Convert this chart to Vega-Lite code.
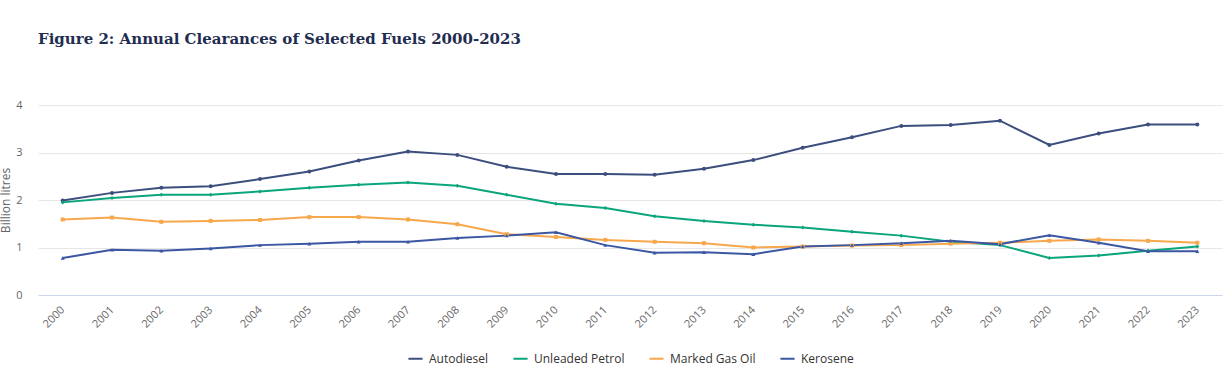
{
  "$schema": "https://vega.github.io/schema/vega-lite/v6.json",
  "autosize": {"type": "none"},
  "width": 1184,
  "height": 190,
  "padding": {"left": 38, "top": 105, "right": 5, "bottom": 79},
  "background": "#ffffff",
  "title": {
    "text": "Figure 2: Annual Clearances of Selected Fuels 2000-2023",
    "anchor": "start",
    "frame": "group",
    "font": "DejaVu Serif",
    "fontSize": 15,
    "fontWeight": "bold",
    "color": "#1f2d50",
    "offset": 52
  },
  "data": {
    "values": [
      {"year": "2000", "fuel": "Autodiesel", "value": 1.99},
      {"year": "2001", "fuel": "Autodiesel", "value": 2.15},
      {"year": "2002", "fuel": "Autodiesel", "value": 2.26},
      {"year": "2003", "fuel": "Autodiesel", "value": 2.29},
      {"year": "2004", "fuel": "Autodiesel", "value": 2.44},
      {"year": "2005", "fuel": "Autodiesel", "value": 2.60},
      {"year": "2006", "fuel": "Autodiesel", "value": 2.83},
      {"year": "2007", "fuel": "Autodiesel", "value": 3.02},
      {"year": "2008", "fuel": "Autodiesel", "value": 2.95},
      {"year": "2009", "fuel": "Autodiesel", "value": 2.70},
      {"year": "2010", "fuel": "Autodiesel", "value": 2.55},
      {"year": "2011", "fuel": "Autodiesel", "value": 2.55},
      {"year": "2012", "fuel": "Autodiesel", "value": 2.53},
      {"year": "2013", "fuel": "Autodiesel", "value": 2.66},
      {"year": "2014", "fuel": "Autodiesel", "value": 2.84},
      {"year": "2015", "fuel": "Autodiesel", "value": 3.10},
      {"year": "2016", "fuel": "Autodiesel", "value": 3.32},
      {"year": "2017", "fuel": "Autodiesel", "value": 3.56},
      {"year": "2018", "fuel": "Autodiesel", "value": 3.58},
      {"year": "2019", "fuel": "Autodiesel", "value": 3.67},
      {"year": "2020", "fuel": "Autodiesel", "value": 3.16},
      {"year": "2021", "fuel": "Autodiesel", "value": 3.40},
      {"year": "2022", "fuel": "Autodiesel", "value": 3.59},
      {"year": "2023", "fuel": "Autodiesel", "value": 3.59},
      {"year": "2000", "fuel": "Unleaded Petrol", "value": 1.95},
      {"year": "2001", "fuel": "Unleaded Petrol", "value": 2.04},
      {"year": "2002", "fuel": "Unleaded Petrol", "value": 2.11},
      {"year": "2003", "fuel": "Unleaded Petrol", "value": 2.11},
      {"year": "2004", "fuel": "Unleaded Petrol", "value": 2.18},
      {"year": "2005", "fuel": "Unleaded Petrol", "value": 2.26},
      {"year": "2006", "fuel": "Unleaded Petrol", "value": 2.32},
      {"year": "2007", "fuel": "Unleaded Petrol", "value": 2.37},
      {"year": "2008", "fuel": "Unleaded Petrol", "value": 2.30},
      {"year": "2009", "fuel": "Unleaded Petrol", "value": 2.11},
      {"year": "2010", "fuel": "Unleaded Petrol", "value": 1.92},
      {"year": "2011", "fuel": "Unleaded Petrol", "value": 1.83},
      {"year": "2012", "fuel": "Unleaded Petrol", "value": 1.66},
      {"year": "2013", "fuel": "Unleaded Petrol", "value": 1.56},
      {"year": "2014", "fuel": "Unleaded Petrol", "value": 1.48},
      {"year": "2015", "fuel": "Unleaded Petrol", "value": 1.42},
      {"year": "2016", "fuel": "Unleaded Petrol", "value": 1.33},
      {"year": "2017", "fuel": "Unleaded Petrol", "value": 1.25},
      {"year": "2018", "fuel": "Unleaded Petrol", "value": 1.12},
      {"year": "2019", "fuel": "Unleaded Petrol", "value": 1.05},
      {"year": "2020", "fuel": "Unleaded Petrol", "value": 0.78},
      {"year": "2021", "fuel": "Unleaded Petrol", "value": 0.83},
      {"year": "2022", "fuel": "Unleaded Petrol", "value": 0.93},
      {"year": "2023", "fuel": "Unleaded Petrol", "value": 1.02},
      {"year": "2000", "fuel": "Marked Gas Oil", "value": 1.59},
      {"year": "2001", "fuel": "Marked Gas Oil", "value": 1.63},
      {"year": "2002", "fuel": "Marked Gas Oil", "value": 1.54},
      {"year": "2003", "fuel": "Marked Gas Oil", "value": 1.56},
      {"year": "2004", "fuel": "Marked Gas Oil", "value": 1.58},
      {"year": "2005", "fuel": "Marked Gas Oil", "value": 1.64},
      {"year": "2006", "fuel": "Marked Gas Oil", "value": 1.64},
      {"year": "2007", "fuel": "Marked Gas Oil", "value": 1.59},
      {"year": "2008", "fuel": "Marked Gas Oil", "value": 1.49},
      {"year": "2009", "fuel": "Marked Gas Oil", "value": 1.28},
      {"year": "2010", "fuel": "Marked Gas Oil", "value": 1.22},
      {"year": "2011", "fuel": "Marked Gas Oil", "value": 1.16},
      {"year": "2012", "fuel": "Marked Gas Oil", "value": 1.12},
      {"year": "2013", "fuel": "Marked Gas Oil", "value": 1.09},
      {"year": "2014", "fuel": "Marked Gas Oil", "value": 1.00},
      {"year": "2015", "fuel": "Marked Gas Oil", "value": 1.02},
      {"year": "2016", "fuel": "Marked Gas Oil", "value": 1.04},
      {"year": "2017", "fuel": "Marked Gas Oil", "value": 1.05},
      {"year": "2018", "fuel": "Marked Gas Oil", "value": 1.08},
      {"year": "2019", "fuel": "Marked Gas Oil", "value": 1.10},
      {"year": "2020", "fuel": "Marked Gas Oil", "value": 1.14},
      {"year": "2021", "fuel": "Marked Gas Oil", "value": 1.17},
      {"year": "2022", "fuel": "Marked Gas Oil", "value": 1.14},
      {"year": "2023", "fuel": "Marked Gas Oil", "value": 1.10},
      {"year": "2000", "fuel": "Kerosene", "value": 0.78},
      {"year": "2001", "fuel": "Kerosene", "value": 0.95},
      {"year": "2002", "fuel": "Kerosene", "value": 0.93},
      {"year": "2003", "fuel": "Kerosene", "value": 0.98},
      {"year": "2004", "fuel": "Kerosene", "value": 1.05},
      {"year": "2005", "fuel": "Kerosene", "value": 1.08},
      {"year": "2006", "fuel": "Kerosene", "value": 1.12},
      {"year": "2007", "fuel": "Kerosene", "value": 1.12},
      {"year": "2008", "fuel": "Kerosene", "value": 1.20},
      {"year": "2009", "fuel": "Kerosene", "value": 1.25},
      {"year": "2010", "fuel": "Kerosene", "value": 1.32},
      {"year": "2011", "fuel": "Kerosene", "value": 1.05},
      {"year": "2012", "fuel": "Kerosene", "value": 0.89},
      {"year": "2013", "fuel": "Kerosene", "value": 0.90},
      {"year": "2014", "fuel": "Kerosene", "value": 0.86},
      {"year": "2015", "fuel": "Kerosene", "value": 1.02},
      {"year": "2016", "fuel": "Kerosene", "value": 1.05},
      {"year": "2017", "fuel": "Kerosene", "value": 1.09},
      {"year": "2018", "fuel": "Kerosene", "value": 1.14},
      {"year": "2019", "fuel": "Kerosene", "value": 1.07},
      {"year": "2020", "fuel": "Kerosene", "value": 1.26},
      {"year": "2021", "fuel": "Kerosene", "value": 1.10},
      {"year": "2022", "fuel": "Kerosene", "value": 0.92},
      {"year": "2023", "fuel": "Kerosene", "value": 0.92}
    ]
  },
  "encoding": {
    "x": {
      "field": "year",
      "type": "ordinal",
      "scale": {"type": "point", "padding": 0.5},
      "axis": {
        "title": null,
        "labelAngle": -45,
        "labelAlign": "right",
        "labelBaseline": "middle",
        "labelPadding": 13,
        "labelFont": "Open Sans",
        "labelFontSize": 11,
        "labelColor": "#666666",
        "ticks": false,
        "grid": false,
        "domain": true,
        "domainColor": "#ccd6eb",
        "domainWidth": 1
      }
    },
    "y": {
      "field": "value",
      "type": "quantitative",
      "scale": {"domain": [0, 4], "nice": false},
      "axis": {
        "title": "Billion litres",
        "titleFont": "Open Sans",
        "titleFontSize": 12,
        "titleFontWeight": "normal",
        "titleColor": "#666666",
        "titlePadding": 3,
        "values": [0, 1, 2, 3, 4],
        "labelFont": "Open Sans",
        "labelFontSize": 11,
        "labelColor": "#666666",
        "labelPadding": 16,
        "ticks": false,
        "domain": false,
        "grid": true,
        "gridColor": "#e6e6e6",
        "gridWidth": 1
      }
    }
  },
  "layer": [
    {
      "mark": {"type": "line", "strokeWidth": 2},
      "encoding": {
        "color": {
          "field": "fuel",
          "type": "nominal",
          "sort": ["Autodiesel", "Unleaded Petrol", "Marked Gas Oil", "Kerosene"],
          "scale": {
            "domain": ["Autodiesel", "Unleaded Petrol", "Marked Gas Oil", "Kerosene"],
            "range": ["#3c4e7e", "#0aa57c", "#f8a84c", "#3b57a3"]
          },
          "legend": {
            "title": null,
            "orient": "none",
            "direction": "horizontal",
            "legendX": 369,
            "legendY": 245,
            "symbolType": "stroke",
            "symbolStrokeWidth": 2,
            "symbolSize": 200,
            "labelFont": "Open Sans",
            "labelFontSize": 12,
            "labelFontWeight": 500,
            "labelColor": "#333333",
            "columnPadding": 20,
            "labelOffset": 5
          }
        }
      }
    },
    {
      "mark": {"type": "point", "filled": true, "size": 16, "opacity": 1},
      "encoding": {
        "color": {
          "field": "fuel",
          "type": "nominal",
          "scale": {
            "domain": ["Autodiesel", "Unleaded Petrol", "Marked Gas Oil", "Kerosene"],
            "range": ["#3c4e7e", "#0aa57c", "#f8a84c", "#3b57a3"]
          },
          "legend": null
        },
        "shape": {
          "field": "fuel",
          "type": "nominal",
          "scale": {
            "domain": ["Autodiesel", "Unleaded Petrol", "Marked Gas Oil", "Kerosene"],
            "range": ["circle", "diamond", "square", "triangle-up"]
          },
          "legend": null
        }
      }
    }
  ],
  "resolve": {"scale": {"color": "independent", "shape": "independent"}, "legend": {"color": "independent", "shape": "independent"}},
  "config": {"view": {"stroke": null}}
}
